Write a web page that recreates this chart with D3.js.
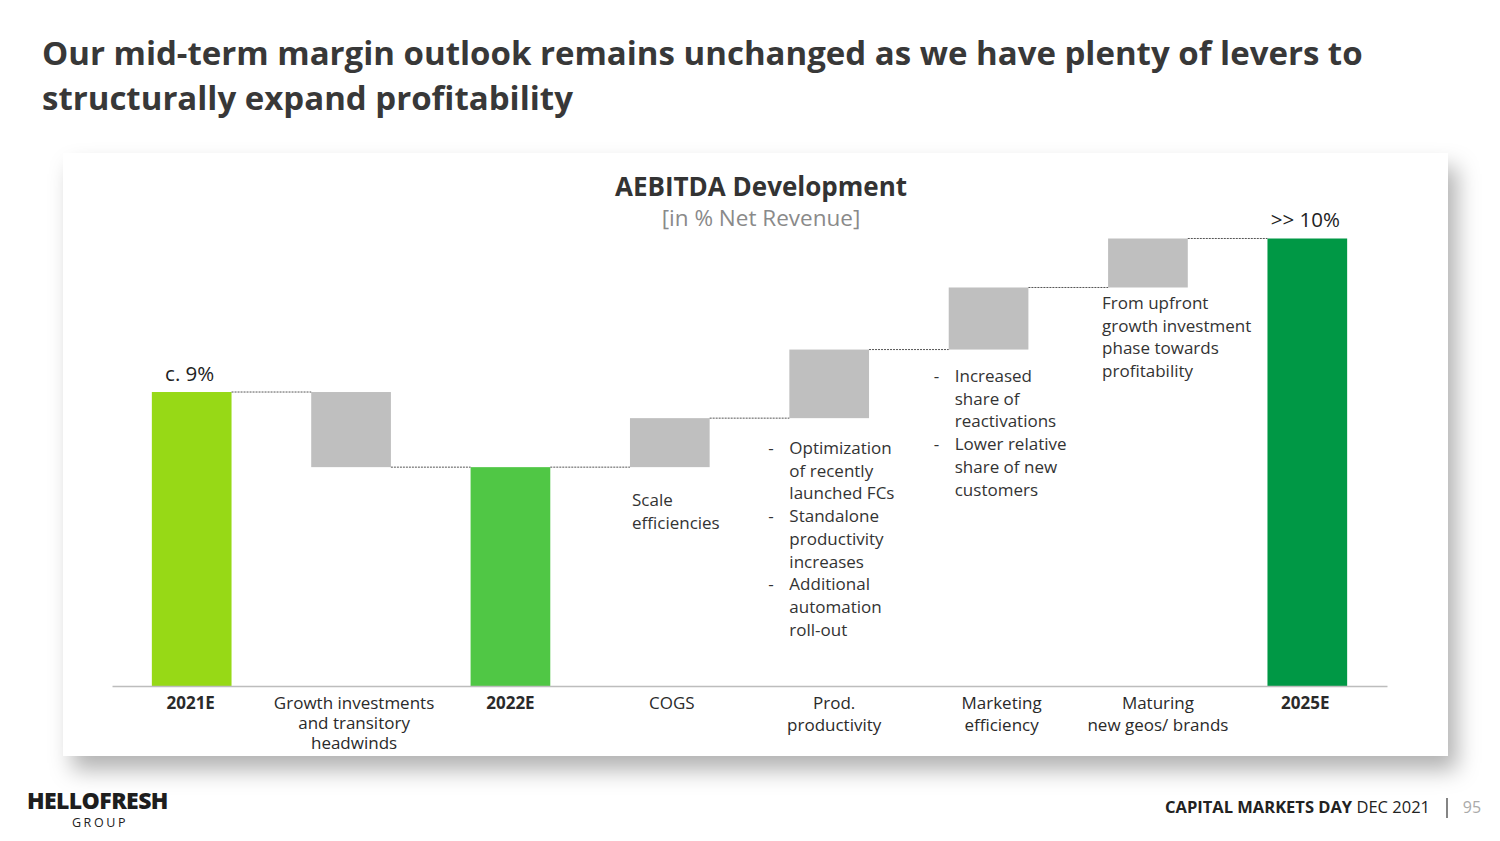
<!DOCTYPE html>
<html>
<head>
<meta charset="utf-8">
<script src="https://cdn.jsdelivr.net/npm/d3@7"></script>
<style>
  html, body { margin: 0; padding: 0; background: #fff; }
  svg { display: block; font-family: "Open Sans", "Noto Sans", sans-serif; }
</style>
</head>
<body>
<svg id="chart" width="1500" height="841"></svg>
<script>
// categories (one entry per bar, label split into lines)
var categories = ["2021E", "Growth investments", "2022E", "COGS", "Prod.", "Marketing", "Maturing", "2025E"];
var categoryLines = [
  ["2021E"],
  ["Growth investments", "and transitory", "headwinds"],
  ["2022E"],
  ["COGS"],
  ["Prod.", "productivity"],
  ["Marketing", "efficiency"],
  ["Maturing", "new geos/ brands"],
  ["2025E"]
];
// AEBITDA margin in % of net revenue (totals) and steps (deltas)
var values = [9.0, -2.3, 6.7, 1.5, 2.1, 1.9, 1.5, 13.7];
var kinds = ["total", "delta", "total", "delta", "delta", "delta", "delta", "total"];
var totalColors = {"2021E": "#97d916", "2022E": "#50c745", "2025E": "#009845"};
var valueLabels = {"2021E": "c. 9%", "2025E": ">> 10%"};
// annotation blocks below the step bars
var notes = {
  "COGS": [{bullet: false, lines: ["Scale", "efficiencies"]}],
  "Prod.": [
    {bullet: true, lines: ["Optimization", "of recently", "launched FCs"]},
    {bullet: true, lines: ["Standalone", "productivity", "increases"]},
    {bullet: true, lines: ["Additional", "automation", "roll-out"]}
  ],
  "Marketing": [
    {bullet: true, lines: ["Increased", "share of", "reactivations"]},
    {bullet: true, lines: ["Lower relative", "share of new", "customers"]}
  ],
  "Maturing": [{bullet: false, lines: ["From upfront", "growth investment", "phase towards", "profitability"]}]
};

var svg = d3.select("#chart");

// drop shadow for the white panel
var defs = svg.append("defs");
var f = defs.append("filter").attr("id", "shadow")
  .attr("x", "-5%").attr("y", "-5%").attr("width", "115%").attr("height", "130%");
f.append("feDropShadow").attr("dx", 9).attr("dy", 14).attr("stdDeviation", 11)
  .attr("flood-color", "#000").attr("flood-opacity", 0.3);

// slide title
var title = svg.append("text").attr("x", 42).attr("fill", "#383838")
  .style("font-size", "33px").style("font-weight", "bold");
title.append("tspan").attr("x", 42).attr("y", 65)
  .text("Our mid-term margin outlook remains unchanged as we have plenty of levers to");
title.append("tspan").attr("x", 42).attr("y", 110).text("structurally expand profitability");

// panel
svg.append("rect").attr("x", 63).attr("y", 153).attr("width", 1385).attr("height", 603)
  .attr("fill", "#fff").attr("filter", "url(#shadow)");

svg.append("text").attr("x", 761).attr("y", 196).attr("text-anchor", "middle")
  .attr("fill", "#333").style("font-size", "26px").style("font-weight", "bold")
  .text("AEBITDA Development");
svg.append("text").attr("x", 761).attr("y", 226).attr("text-anchor", "middle")
  .attr("fill", "#8a8a8a").style("font-size", "22.5px").text("[in % Net Revenue]");

// scales
var x = d3.scaleBand().domain(categories).range([112, 1387]).paddingInner(0.5).paddingOuter(0.25);
var y = d3.scaleLinear().domain([0, 14]).range([686, 228.7]);

// waterfall geometry
var bars = [];
var run = 0;
for (var i = 0; i < categories.length; i++) {
  var d = {cat: categories[i], kind: kinds[i], value: values[i]};
  if (kinds[i] === "total") {
    d.y0 = 0; d.y1 = values[i]; run = values[i];
  } else {
    d.y0 = run; d.y1 = run + values[i]; run = d.y1;
  }
  d.end = run;
  bars.push(d);
}

var chart = svg.append("g");

chart.selectAll("rect.bar").data(bars).enter().append("rect")
  .attr("class", "bar")
  .attr("x", function(d) { return x(d.cat); })
  .attr("width", x.bandwidth())
  .attr("y", function(d) { return y(Math.max(d.y0, d.y1)); })
  .attr("height", function(d) { return Math.abs(y(d.y0) - y(d.y1)); })
  .attr("fill", function(d) { return d.kind === "total" ? totalColors[d.cat] : "#bfbfbf"; });

// dotted connectors
var links = bars.slice(0, -1).map(function(d, i) { return {from: d, to: bars[i + 1]}; });
chart.selectAll("line.link").data(links).enter().append("line")
  .attr("x1", function(d) { return x(d.from.cat) + x.bandwidth(); })
  .attr("x2", function(d) { return x(d.to.cat); })
  .attr("y1", function(d) { return y(d.from.end); })
  .attr("y2", function(d) { return y(d.from.end); })
  .attr("stroke", "#555").attr("stroke-width", 1).attr("stroke-dasharray", "2,1");

// value labels
chart.selectAll("text.val").data(bars.filter(function(d) { return valueLabels[d.cat]; }))
  .enter().append("text")
  .attr("x", function(d) { return x(d.cat) + x.bandwidth() / 2 - 2; })
  .attr("y", function(d) { return y(d.y1) - 11; })
  .attr("text-anchor", "middle").attr("fill", "#222").style("font-size", "20.5px")
  .text(function(d) { return valueLabels[d.cat]; });

// category axis (labels nudged like on the slide)
var labelShift = [-1, 3, 0, 2, 5, 13, 10, -2];
var axis = svg.append("g").attr("transform", "translate(0,686)")
  .call(d3.axisBottom(x).tickSize(0).tickSizeOuter(0));
axis.select(".domain").attr("stroke", "#bdbdbd").attr("stroke-width", 1.5);
axis.selectAll(".tick text").each(function(c, i) {
  var t = d3.select(this).text(null).attr("y", 0).attr("dy", null)
    .attr("fill", "#2a2a2a")
    .style("font-family", "'Open Sans', sans-serif")
    .style("font-size", "17px")
    .style("font-weight", kinds[i] === "total" ? "bold" : "normal");
  var step = categoryLines[i].length > 2 ? 20 : 22;
  categoryLines[i].forEach(function(line, k) {
    t.append("tspan").attr("x", labelShift[i]).attr("y", 23 + k * step).text(line);
  });
});

// annotations
var noteTop = {"COGS": 506, "Prod.": 454, "Marketing": 382, "Maturing": 309};
var noteShift = {"COGS": 2, "Prod.": 0, "Marketing": 6, "Maturing": -6};
Object.keys(notes).forEach(function(cat) {
  var textX = x(cat) + noteShift[cat];
  var yy = noteTop[cat];
  var g = chart.append("g").attr("fill", "#333").style("font-size", "17px");
  notes[cat].forEach(function(block) {
    if (block.bullet) {
      g.append("text").attr("x", textX - 21).attr("y", yy).text("-");
    }
    block.lines.forEach(function(line) {
      g.append("text").attr("x", textX).attr("y", yy).text(line);
      yy += 22.7;
    });
  });
});

// footer
svg.append("text").attr("x", 27).attr("y", 809).attr("fill", "#1e1e1e")
  .style("font-size", "23px").style("font-weight", "800").style("letter-spacing", "-0.6px")
  .text("HELLOFRESH");
svg.append("text").attr("x", 100).attr("y", 827).attr("text-anchor", "middle").attr("fill", "#222")
  .style("font-size", "12.5px").style("letter-spacing", "2.6px").text("GROUP");

var foot = svg.append("text").attr("x", 1430).attr("y", 813).attr("text-anchor", "end")
  .attr("fill", "#222").style("font-size", "16.5px");
foot.append("tspan").style("font-weight", "bold").text("CAPITAL MARKETS DAY");
foot.append("tspan").text(" DEC 2021");
svg.append("line").attr("x1", 1447).attr("x2", 1447).attr("y1", 798).attr("y2", 818)
  .attr("stroke", "#333").attr("stroke-width", 1.2);
svg.append("text").attr("x", 1472).attr("y", 813).attr("text-anchor", "middle")
  .attr("fill", "#aaa").style("font-size", "16px").text("95");
</script>
</body>
</html>
